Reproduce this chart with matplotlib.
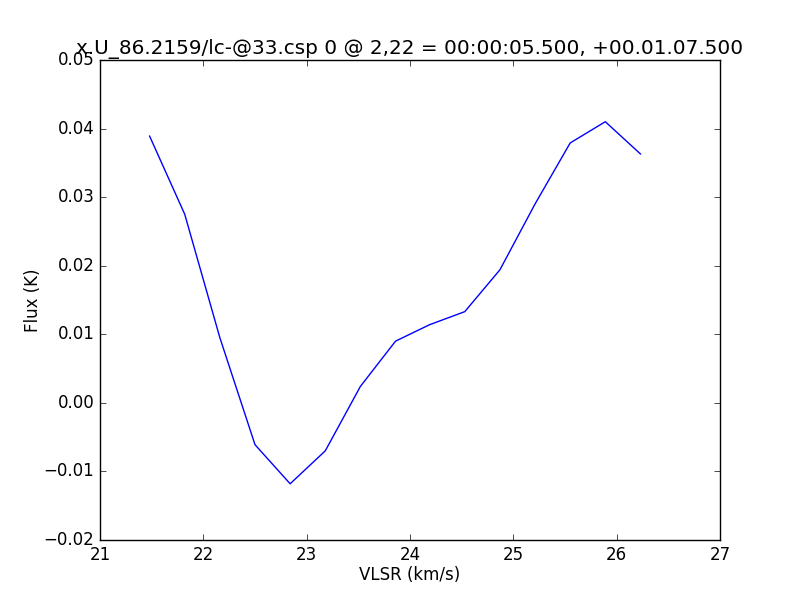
import matplotlib
matplotlib.use("Agg")
import matplotlib.pyplot as plt

plt.style.use("classic")

vlsr = [21.48, 21.82, 22.16, 22.50, 22.84, 23.18, 23.52, 23.86, 24.19,
        24.53, 24.87, 25.21, 25.55, 25.89, 26.23]
flux = [0.0389, 0.0275, 0.0095, -0.0061, -0.0118, -0.0070, 0.0024, 0.0090,
        0.0114, 0.0133, 0.0194, 0.0290, 0.0379, 0.0410, 0.0363]

title = "x.U_86.2159/lc-@33.csp 0 @ 2,22 = 00:00:05.500, +00.01.07.500"

fig = plt.figure(figsize=(8, 6), dpi=100, facecolor="white")
ax = fig.add_axes([0.125, 0.1, 0.775, 0.8])
ax.plot(vlsr, flux, color="b", linewidth=1)
ax.set_xlim(21, 27)
ax.set_ylim(-0.02, 0.05)
ax.set_xticks([21, 22, 23, 24, 25, 26, 27])
ax.set_yticks([-0.02, -0.01, 0.0, 0.01, 0.02, 0.03, 0.04, 0.05])
ax.set_yticklabels(["\u22120.02", "\u22120.01", "0.00", "0.01", "0.02", "0.03", "0.04", "0.05"])
ax.set_xlabel("VLSR (km/s)", labelpad=1.5)
ax.set_ylabel("Flux (K)", labelpad=1.5)
ax.set_title(title, pad=4.3)
fig.savefig("out.png", dpi=100, facecolor="white")
